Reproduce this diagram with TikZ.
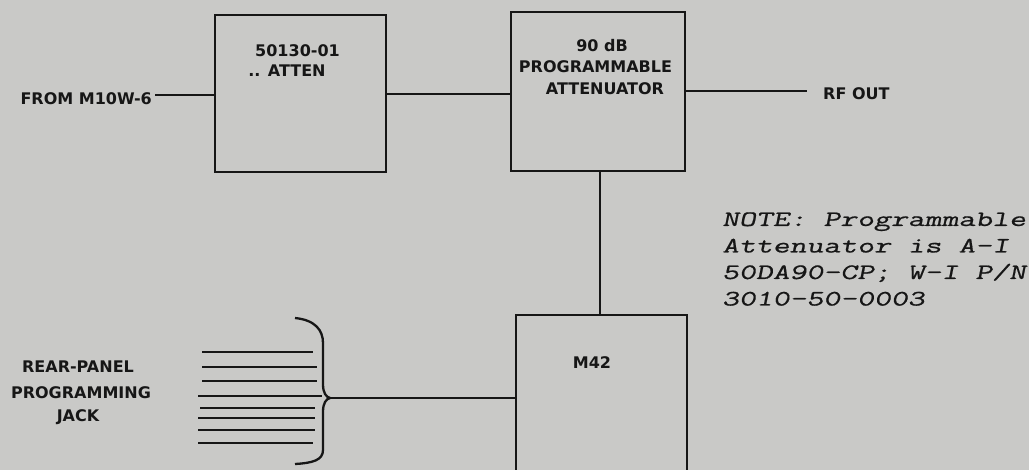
\documentclass[tikz,border=0pt]{standalone}
\usepackage{fontspec}
\newfontfamily\lblfont{DejaVu Sans}
\newfontfamily\notefont[FakeStretch=1.49,FakeBold=0.7,FakeSlant=0.2]{Latin Modern Mono}
\definecolor{paper}{RGB}{201,201,199}
\definecolor{ink}{RGB}{22,22,22}
\begin{document}
\begin{tikzpicture}[x=1pt,y=-1pt,
  blk/.style={draw=ink, line width=2.6pt, inner sep=0pt},
  wire/.style={draw=ink, line width=2.2pt},
  lbl/.style={text=ink, inner sep=0pt, anchor=base, font=\lblfont\bfseries\fontsize{16}{19}\selectfont},
  note/.style={text=ink, inner sep=0pt, anchor=base west, font=\notefont\fontsize{22}{26}\selectfont}]
\fill[paper] (0,0) rectangle (1029,470);
\useasboundingbox (0,0) rectangle (1029,470);
\clip (0,0) rectangle (1029,470);
% boxes
\node[blk, minimum width=171pt, minimum height=157pt] (b1) at (300.5,93.5) {};
\node[blk, minimum width=174pt, minimum height=159pt] (b2) at (598,91.5) {};
\node[blk, minimum width=171pt, minimum height=180pt] (m42) at (601.5,405) {};
% box texts
\node[lbl] (t1a) at (297.5,57) {50130-01};
\node[lbl] (t1b) at (287,77) {.. ATTEN};
\node[lbl] (t2a) at (602,52) {90 dB};
\node[lbl] (t2b) at (595.5,73) {PROGRAMMABLE};
\node[lbl] (t2c) at (605,95) {ATTENUATOR};
\node[lbl] (t3) at (592,369) {M42};
% external labels
\node[lbl, anchor=base east] (from) at (152,105) {FROM M10W-6};
\coordinate (fromend) at (155,95);
\node[lbl, anchor=base west] (rfout) at (823,100) {RF OUT};
\coordinate (rfend) at (807,91);
\node[lbl] (rp1) at (78,373) {REAR-PANEL};
\node[lbl] (rp2) at (81,399) {PROGRAMMING};
\node[lbl] (rp3) at (78,421) {JACK};
% connectors
\draw[wire] (fromend) -- (fromend -| b1.west);
\coordinate (c12) at (386,94);
\draw[wire] (c12 -| b1.east) -- (c12 -| b2.west);
\coordinate (crf) at (686,91);
\draw[wire] (crf -| b2.east) -- (rfend);
\coordinate (cv) at (600,200);
\draw[wire] (cv |- b2.south) -- (cv |- m42.north);
% brace and jack lines
\coordinate (bp) at (330,398);
\draw[wire, line width=2.3pt] (295,318) .. controls (315,320) and (323,330) .. (323,343) -- (323,384) .. controls (323,393) and (326,397) .. (bp)
  .. controls (326,399) and (323,403) .. (323,412) -- (323,450) .. controls (323,460) and (313,463) .. (295,464);
\draw[wire] (bp) -- (bp -| m42.west);
\foreach \yy/\xa/\xb in {352/202/313, 367/202/317, 381/202/317, 396/198/322, 408/200/315, 418/198/315, 430/198/315, 443/198/313}
  \draw[wire] (\xa,\yy) -- (\xb,\yy);
% note
\node[note] (n1) at (722,226) {NOTE: Programmable};
\node[note] (n2) at (722,252.5) {Attenuator is A-I};
\node[note] (n3) at (722,279) {50DA90-CP; W-I P/N};
\node[note] (n4) at (722,305.5) {3010-50-0003};
\end{tikzpicture}
\end{document}
